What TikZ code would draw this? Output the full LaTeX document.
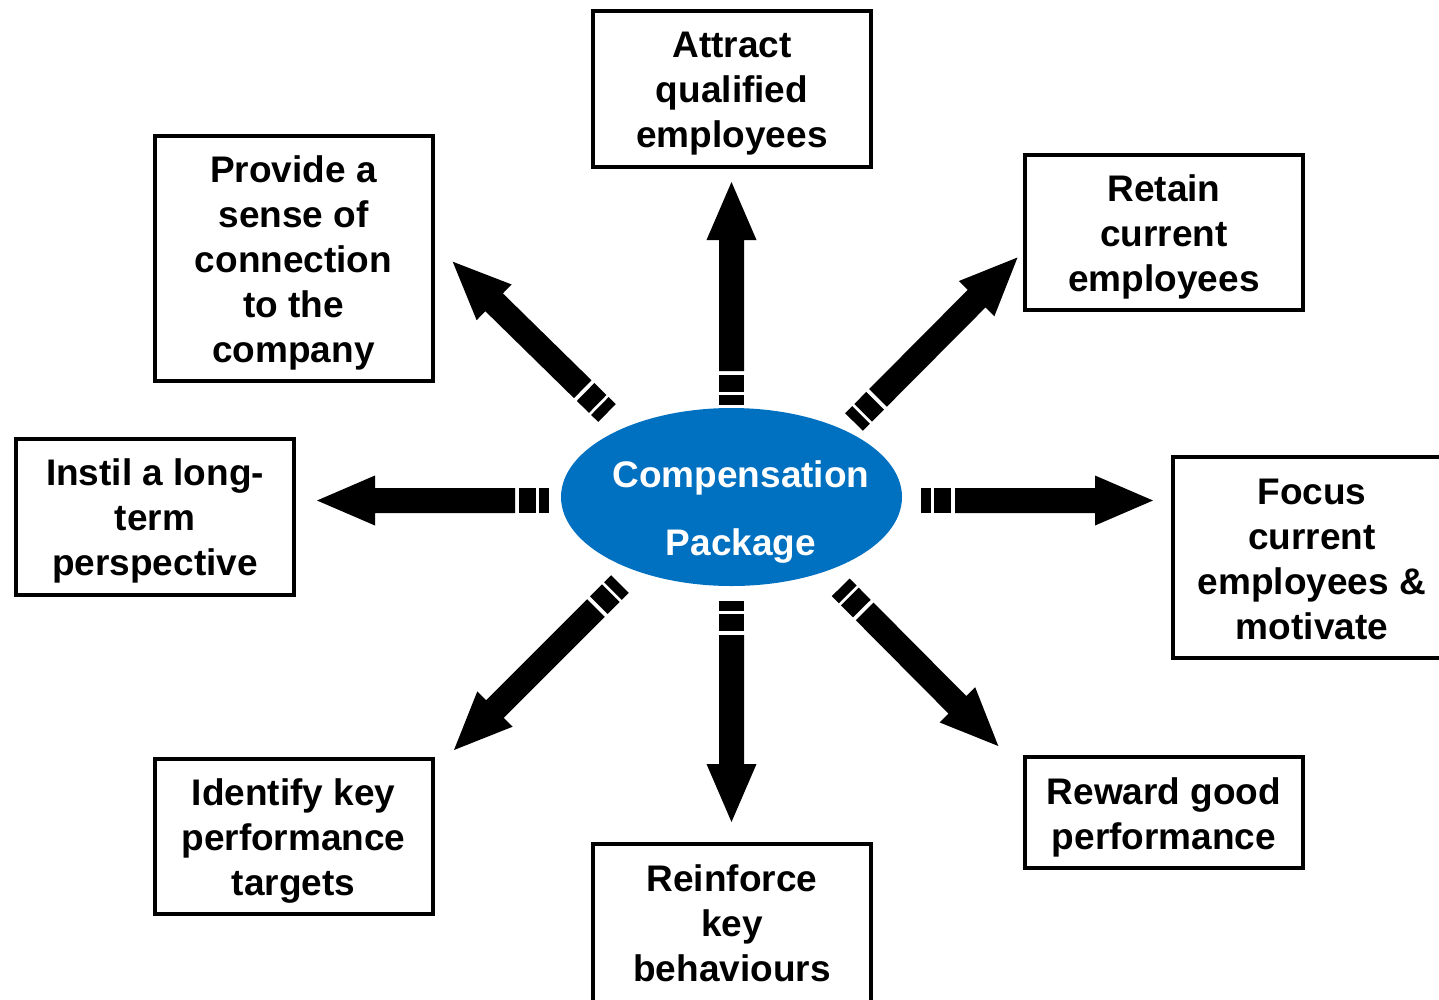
\documentclass[tikz,border=0pt]{standalone}
\usepackage{fontspec}
\setmainfont{Liberation Sans}
\usetikzlibrary{shapes.geometric}
\definecolor{comphub}{HTML}{0070C0}

% striped block arrow, tail coordinate #1 to tip coordinate #2
\newcommand{\stripedarrow}[2]{%
  \pgfpointdiff{\pgfpointanchor{#1}{center}}{\pgfpointanchor{#2}{center}}%
  \pgfgetlastxy{\arrdx}{\arrdy}%
  \pgfmathsetmacro{\arrlen}{veclen(\arrdx,\arrdy)}%
  \pgfmathsetmacro{\arrang}{atan2(\arrdy,\arrdx)}%
  \begin{scope}[shift={(#1)},rotate=\arrang]
    \fill (0,-12.5) rectangle (10,12.5);
    \fill (13,-12.5) rectangle (30,12.5);
    \fill (34,-12.5) -- (\arrlen-58,-12.5) -- (\arrlen-58,-25) -- (\arrlen,0)
      -- (\arrlen-58,25) -- (\arrlen-58,12.5) -- (34,12.5) -- cycle;
  \end{scope}}

\begin{document}
\begin{tikzpicture}[x=1pt,y=-1pt,
  goal/.style={draw,line width=4pt,fill=white,minimum width=278pt,inner sep=0pt},
  goaltext/.style={align=center,inner sep=0pt,font=\bfseries\fontsize{37}{45}\selectfont},
  hub/.style={ellipse,fill=comphub,minimum width=341pt,minimum height=178pt,inner sep=0pt},
  hubtext/.style={align=center,text=white,inner sep=0pt,font=\bfseries\fontsize{37}{68}\selectfont}
]
  \useasboundingbox (0,0) rectangle (1439,999);

  \node[hub] (comp) at (731.5,497) {};
  \node[hubtext] (comptext) at (741,512) {Compensation\\Package};

  \node[goal,minimum height=156pt] (attract) at (732,89) {};
  \node[goal,minimum height=155pt] (retain) at (1164,232.5) {};
  \node[goal,minimum height=245pt] (provide) at (293.5,258.5) {};
  \node[goal,minimum height=156pt] (instil) at (155,517) {};
  \node[goal,minimum height=201pt] (focus) at (1312,557.5) {};
  \node[goal,minimum height=155pt] (identify) at (293.5,836.5) {};
  \node[goal,minimum height=162pt] (reinforce) at (732,925) {};
  \node[goal,minimum height=111pt] (reward) at (1164,812.5) {};

  \node[goaltext] at ([yshift=-5pt]attract.center) {Attract\\qualified\\employees};
  \node[goaltext] at ([yshift=-4pt]retain.center) {Retain\\current\\employees};
  \node[goaltext] at ([yshift=-4pt]provide.center) {Provide a\\sense of\\connection\\to the\\company};
  \node[goaltext] at ([yshift=-4pt]instil.center) {Instil a long-\\term\\perspective};
  \node[goaltext] at ([yshift=-2pt]focus.center) {Focus\\current\\employees \&\\motivate};
  \node[goaltext] at ([yshift=-4pt]identify.center) {Identify key\\performance\\targets};
  \node[goaltext] at ([yshift=2pt]reinforce.center) {Reinforce\\key\\behaviours};
  \node[goaltext] at ([yshift=-5pt]reward.center) {Reward good\\performance};

  \coordinate (upT) at (731.5,405);   \coordinate (upH) at (731.5,182);
  \coordinate (rtT) at (921,500.5);   \coordinate (rtH) at (1153,500.5);
  \coordinate (ltT) at (549,500.5);   \coordinate (ltH) at (317,500.5);
  \coordinate (dnT) at (731.5,601);   \coordinate (dnH) at (731.5,822);
  \coordinate (urT) at (854,422);     \coordinate (urH) at (1017.5,257.5);
  \coordinate (ulT) at (607,413);     \coordinate (ulH) at (452.7,261.7);
  \coordinate (llT) at (620,584);     \coordinate (llH) at (454,750);
  \coordinate (lrT) at (840.7,587.3); \coordinate (lrH) at (998.3,746);

  \stripedarrow{upT}{upH}
  \stripedarrow{rtT}{rtH}
  \stripedarrow{ltT}{ltH}
  \stripedarrow{dnT}{dnH}
  \stripedarrow{urT}{urH}
  \stripedarrow{ulT}{ulH}
  \stripedarrow{llT}{llH}
  \stripedarrow{lrT}{lrH}
\end{tikzpicture}
\end{document}
